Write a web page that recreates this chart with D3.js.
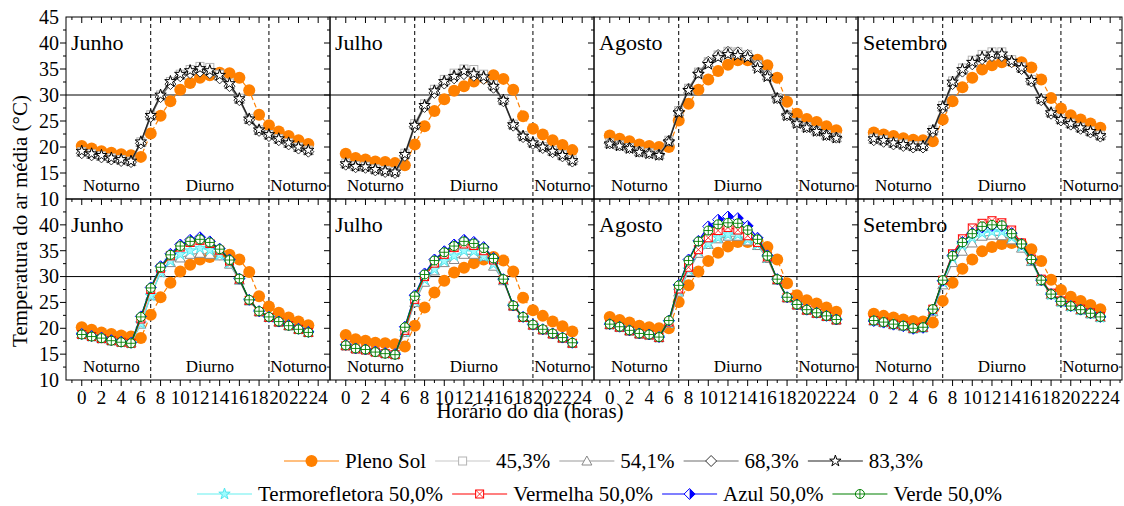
<!DOCTYPE html>
<html>
<head>
<meta charset="utf-8">
<script src="https://cdn.jsdelivr.net/npm/d3@7"></script>
<style>
  body { margin: 0; background: #fff; }
</style>
</head>
<body>
<svg id="chart" width="1124" height="506"></svg>
<script>
// hours of the day and months (one column of panels per month)
var hours = [0,1,2,3,4,5,6,7,8,9,10,11,12,13,14,15,16,17,18,19,20,21,22,23];
var months = ["Junho", "Julho", "Agosto", "Setembro"];

// each array: [Junho, Julho, Agosto, Setembro]
var plenoSol = [
  [20.2,19.7,19.2,18.9,18.6,18.4,18.1,22.6,26.0,28.8,31.0,32.3,33.3,33.8,34.3,34.2,33.3,30.9,26.2,24.2,23.0,22.1,21.3,20.6],
  [18.7,17.9,17.6,17.2,17.1,16.9,16.5,20.5,24.0,26.9,29.2,30.8,31.7,32.6,33.3,33.8,33.1,31.0,25.9,23.5,22.4,21.3,20.4,19.4],
  [22.2,21.6,21.1,20.5,20.2,20.0,20.0,25.1,28.3,31.0,33.0,34.6,35.8,36.7,36.7,36.8,35.7,33.3,28.7,26.4,25.4,24.8,24.0,23.2],
  [22.8,22.4,22.1,21.7,21.4,21.3,21.1,25.3,28.8,31.5,33.3,34.9,35.7,36.3,36.5,36.3,35.3,33.0,29.4,27.4,26.1,25.3,24.5,23.7]
];
var sombra45 = [
  [19.1,18.7,18.3,17.9,17.6,17.3,21.0,26.2,30.0,32.6,34.0,34.9,35.5,35.3,34.0,32.3,29.4,25.5,23.3,22.4,21.6,20.8,20.0,19.4],
  [16.9,16.4,16.3,15.8,15.5,15.3,18.8,24.5,28.3,31.1,33.0,34.2,35.0,34.9,34.0,32.0,29.1,24.4,22.2,20.9,20.1,19.3,18.5,17.5],
  [20.8,20.4,19.9,19.2,18.9,18.6,21.3,27.0,31.3,34.4,36.4,37.7,38.4,38.3,37.8,35.8,33.9,29.5,26.2,24.7,23.9,23.2,22.4,21.9],
  [21.7,21.4,20.9,20.6,20.3,20.3,23.3,28.0,32.7,35.2,36.7,37.8,38.3,38.3,36.8,35.4,33.0,29.3,26.7,25.4,24.6,23.8,23.1,22.3]
];
var sombra54 = [
  [19.0,18.6,18.2,17.8,17.5,17.2,20.9,26.0,29.8,32.4,33.8,34.6,35.0,34.6,33.6,32.0,29.2,25.3,23.2,22.3,21.5,20.7,19.9,19.3],
  [16.8,16.3,16.2,15.7,15.4,15.2,18.6,24.3,28.1,30.9,32.8,33.9,34.6,34.4,33.7,31.8,29.0,24.3,22.1,20.8,20.0,19.2,18.4,17.4],
  [20.7,20.3,19.8,19.1,18.8,18.5,21.1,26.8,31.1,34.2,36.2,37.5,38.1,38.0,37.5,35.5,33.7,29.4,26.1,24.6,23.8,23.1,22.3,21.8],
  [21.5,21.2,20.7,20.4,20.1,20.1,23.1,27.7,32.4,34.8,36.2,37.2,37.8,37.8,36.5,35.2,32.8,29.2,26.6,25.3,24.5,23.7,23.0,22.2]
];
var sombra68 = [
  [18.8,18.4,18.0,17.6,17.3,17.1,20.7,25.8,29.6,32.1,33.6,34.2,34.5,34.2,33.2,31.7,29.0,25.2,23.1,22.1,21.3,20.5,19.7,19.1],
  [16.6,16.1,16.0,15.5,15.2,15.0,18.3,23.9,27.7,30.4,32.2,33.2,34.0,33.7,33.1,31.4,28.8,24.1,21.9,20.6,19.8,19.0,18.2,17.2],
  [20.7,20.3,19.8,19.1,18.8,18.5,21.2,26.9,31.2,34.3,36.4,37.7,38.3,38.2,37.7,35.7,33.8,29.4,26.1,24.6,23.8,23.1,22.3,21.8],
  [21.3,21.0,20.5,20.2,19.9,19.9,22.9,27.5,32.1,34.5,35.9,36.9,37.5,37.5,36.3,35.0,32.6,29.0,26.4,25.1,24.3,23.5,22.8,22.0]
];
var sombra83 = [
  [19.2,18.7,18.4,17.9,17.6,17.3,21.0,26.1,30.0,32.6,34.0,34.7,35.1,34.7,33.8,32.2,29.3,25.4,23.3,22.4,21.6,20.8,20.0,19.4],
  [16.8,16.3,16.2,15.7,15.4,15.2,18.6,24.2,28.0,30.8,32.6,33.6,34.6,34.1,33.5,31.7,29.0,24.3,22.1,20.8,20.0,19.2,18.4,17.4],
  [20.6,20.2,19.7,19.0,18.7,18.4,21.0,26.6,30.9,34.0,35.9,37.2,37.8,37.6,37.2,35.1,33.5,29.3,26.0,24.5,23.7,23.0,22.2,21.7],
  [21.6,21.3,20.8,20.5,20.2,20.2,23.2,27.8,32.5,34.9,36.3,37.3,37.9,37.9,36.5,35.2,32.8,29.2,26.6,25.3,24.5,23.7,23.0,22.2]
];
// 54,1% as drawn in the lower row
var sombra54b = [
  [18.9,18.5,18.1,17.7,17.4,17.2,20.8,26.3,30.8,32.7,33.6,34.3,34.5,34.3,34.0,32.4,29.3,25.3,23.2,22.1,21.2,20.5,19.8,19.2],
  [16.7,16.1,15.9,15.5,15.2,15.0,19.2,25.0,28.9,31.1,32.7,33.3,34.3,34.3,33.9,32.0,29.2,24.3,22.1,20.6,19.7,18.9,18.1,17.1],
  [20.7,20.2,19.5,18.9,18.7,18.2,21.0,27.0,31.0,34.5,36.2,37.3,37.8,37.8,36.9,36.0,33.5,29.3,25.9,24.5,23.5,22.9,22.3,21.6],
  [21.4,21.1,20.7,20.4,19.9,20.1,23.2,28.4,32.7,34.9,36.5,37.8,38.0,37.9,37.1,35.5,32.9,29.1,26.5,25.1,24.2,23.5,22.8,22.1]
];
var termorefletora = [
  [18.8,18.4,18.0,17.6,17.3,17.1,20.9,26.3,30.8,33.0,34.3,35.0,35.5,35.1,34.2,32.6,29.4,25.4,23.2,22.1,21.2,20.5,19.8,19.2],
  [16.6,16.0,15.8,15.4,15.1,14.9,19.3,25.2,29.4,31.4,33.0,34.0,35.0,34.9,33.9,32.4,29.3,24.3,22.1,20.6,19.7,18.9,18.1,17.1],
  [20.7,20.2,19.5,18.9,18.7,18.2,21.0,27.2,31.3,34.9,36.3,37.5,38.1,38.1,37.2,36.2,33.6,29.4,25.9,24.5,23.5,22.9,22.3,21.6],
  [21.4,21.1,20.7,20.4,19.9,20.1,23.4,28.9,33.6,36.0,37.5,38.4,38.7,38.7,37.6,35.8,33.1,29.2,26.5,25.1,24.2,23.5,22.8,22.1]
];
var vermelha = [
  [18.8,18.4,18.0,17.6,17.3,17.1,21.8,27.5,31.6,34.0,35.7,36.6,37.0,36.4,35.1,33.0,29.5,25.4,23.2,22.1,21.2,20.5,19.8,19.2],
  [16.6,16.0,15.8,15.4,15.1,14.9,19.6,25.6,30.0,32.6,34.3,35.6,36.3,36.0,35.0,33.2,29.4,24.3,22.1,20.6,19.7,18.9,18.1,17.1],
  [20.7,20.2,19.5,18.9,18.7,18.2,21.2,27.6,31.8,35.2,37.5,38.9,39.5,39.0,37.9,36.6,33.8,29.4,25.9,24.5,23.5,22.9,22.3,21.6],
  [21.5,21.2,20.8,20.5,20.0,20.2,23.7,29.3,34.4,37.3,39.4,40.3,40.8,40.4,39.0,36.5,33.4,29.5,26.8,25.3,24.4,23.7,23.0,22.3]
];
var azul = [
  [18.9,18.5,18.2,17.7,17.4,17.2,22.3,27.9,32.0,34.4,36.2,37.1,37.6,36.8,35.4,33.3,29.6,25.5,23.3,22.2,21.3,20.6,19.9,19.3],
  [16.8,16.1,15.9,15.5,15.2,15.0,20.3,26.4,30.6,33.3,34.9,36.2,37.1,36.7,35.7,33.6,29.5,24.4,22.2,20.7,19.8,19.0,18.2,17.2],
  [20.8,20.3,19.6,19.0,18.8,18.3,21.5,28.4,33.3,36.9,39.7,41.0,41.6,41.3,39.8,37.5,34.1,29.5,26.0,24.6,23.6,23.0,22.4,21.7],
  [21.4,21.1,20.7,20.4,19.9,20.1,23.6,29.2,34.1,36.7,38.4,39.5,39.8,39.8,38.4,36.3,33.3,29.3,26.6,25.2,24.3,23.6,22.9,22.2]
];
var verde = [
  [18.8,18.4,18.1,17.6,17.3,17.1,22.2,27.8,31.8,34.2,35.9,36.8,37.2,36.6,35.3,33.2,29.6,25.5,23.3,22.2,21.3,20.5,19.8,19.2],
  [16.7,16.1,15.9,15.4,15.1,14.9,20.2,26.2,30.4,33.1,34.7,35.9,36.8,36.4,35.5,33.5,29.5,24.4,22.2,20.7,19.8,19.0,18.2,17.2],
  [20.8,20.3,19.6,19.0,18.8,18.3,21.5,28.3,33.1,36.8,38.9,40.1,40.4,40.3,39.0,37.2,34.0,29.5,26.0,24.6,23.6,23.0,22.4,21.7],
  [21.5,21.2,20.8,20.5,20.0,20.2,23.7,29.3,34.0,36.6,38.3,39.7,40.0,39.9,38.3,36.3,33.3,29.3,26.6,25.2,24.3,23.6,22.9,22.2]
];

var xTickLabels = [0,2,4,6,8,10,12,14,16,18,20,22,24];
var yTickLabels = [10,15,20,25,30,35,40,45];

// series styles
var styles = {
  pleno:  { name: "Pleno Sol",           color: "#ff8000", dash: "5,3", marker: "circle" },
  s45:    { name: "45,3%",               color: "#c8c8c8", dash: null,  marker: "square" },
  s54:    { name: "54,1%",               color: "#999999", dash: null,  marker: "triangle" },
  s68:    { name: "68,3%",               color: "#6e6e6e", dash: null,  marker: "diamond" },
  s83:    { name: "83,3%",               color: "#222222", dash: null,  marker: "star" },
  termo:  { name: "Termorefletora 50,0%", color: "#66f0f0", dash: null, marker: "starCyan" },
  verm:   { name: "Vermelha 50,0%",      color: "#ff0000", dash: null,  marker: "squareX" },
  azul:   { name: "Azul 50,0%",          color: "#0000ff", dash: null,  marker: "diamondHalf" },
  verde:  { name: "Verde 50,0%",         color: "#008000", dash: null,  marker: "circlePlus" }
};

var topRow = [["pleno", plenoSol], ["s45", sombra45], ["s54", sombra54], ["s68", sombra68], ["s83", sombra83]];
var bottomRow = [["pleno", plenoSol], ["s54", sombra54b], ["termo", termorefletora], ["verm", vermelha], ["azul", azul], ["verde", verde]];

var svg = d3.select("#chart");
var serif = "Liberation Serif";

var left = 66, panelW = 264;
var rows = [{ y0: 17, y1: 199, series: topRow, labels: yTickLabels, textY: 11.5 },
            { y0: 199, y1: 380, series: bottomRow, labels: yTickLabels.slice(0, 7), textY: 11.6 }];

function label(sel, size) {
  return sel.style("font-family", serif).style("font-size", size + "px").attr("fill", "#000");
}

function drawMarker(g, type) {
  var dia = "M0,-5.5L5.5,0L0,5.5L-5.5,0Z";
  var star = d3.symbol(d3.symbolStar, 40)();
  if (type == "circle") {
    g.append("circle").attr("r", 6).attr("fill", "#ff8000");
  } else if (type == "square") {
    g.append("rect").attr("x", -4).attr("y", -4).attr("width", 8).attr("height", 8)
      .attr("fill", "#fff").attr("stroke", "#b4b4b4");
  } else if (type == "triangle") {
    g.append("path").attr("d", "M0,-5L5,4L-5,4Z").attr("fill", "#fff").attr("stroke", "#888");
  } else if (type == "diamond") {
    g.append("path").attr("d", dia).attr("fill", "#fff").attr("stroke", "#333");
  } else if (type == "star") {
    g.append("path").attr("d", star).attr("fill", "#fff").attr("stroke", "#000");
  } else if (type == "starCyan") {
    g.append("path").attr("d", star).attr("fill", "#9ffcff").attr("stroke", "#55e6ee");
  } else if (type == "squareX") {
    g.append("rect").attr("x", -4).attr("y", -4).attr("width", 8).attr("height", 8)
      .attr("fill", "#fff").attr("stroke", "#f00");
    g.append("path").attr("d", "M-4,-4L4,4M4,-4L-4,4").attr("stroke", "#f00").attr("stroke-width", 0.8);
  } else if (type == "diamondHalf") {
    g.append("path").attr("d", dia).attr("fill", "#fff").attr("stroke", "#00f");
    g.append("path").attr("d", "M0,-5.5L5.5,0L0,5.5Z").attr("fill", "#00f");
  } else if (type == "circlePlus") {
    g.append("circle").attr("r", 4.5).attr("fill", "#fff").attr("stroke", "#008000");
    g.append("path").attr("d", "M-4.5,0L4.5,0M0,-4.5L0,4.5").attr("stroke", "#008000").attr("stroke-width", 0.9);
  }
}

rows.forEach(function(row, ri) {
  var y = d3.scaleLinear().domain([10, 45]).range([row.y1, row.y0]);

  months.forEach(function(month, mi) {
    var x0 = left + mi * panelW, x1 = x0 + panelW;
    var x = d3.scaleLinear().domain([-1.6, 25.2]).range([x0, x1]);
    var g = svg.append("g");

    // reference lines
    g.append("line").attr("x1", x0).attr("x2", x1).attr("y1", y(30)).attr("y2", y(30))
      .attr("stroke", "#000").attr("stroke-width", 1);
    [7, 19].forEach(function(h) {
      g.append("line").attr("x1", x(h)).attr("x2", x(h)).attr("y1", row.y0).attr("y2", row.y1)
        .attr("stroke", "#000").attr("stroke-dasharray", "4,3").attr("stroke-width", 1);
    });

    // ticks: all pointing down / left
    var xt = d3.range(-1, 26);
    g.selectAll(".xt").data(xt).join("line")
      .attr("x1", d => x(d)).attr("x2", d => x(d))
      .attr("y1", row.y0).attr("y2", d => row.y0 + (d % 2 == 0 ? 6 : 3))
      .attr("stroke", "#000");
    if (ri == 1) {
      g.selectAll(".xb").data(xt).join("line")
        .attr("x1", d => x(d)).attr("x2", d => x(d))
        .attr("y1", row.y1).attr("y2", d => row.y1 + (d % 2 == 0 ? 6 : 3))
        .attr("stroke", "#000");
      label(g.selectAll(".xl").data(xTickLabels).join("text"), 19)
        .attr("x", d => x(d)).attr("y", 404)
        .attr("text-anchor", "middle")
        .text(d => d);
    }
    var yt = d3.range(12.5, 45, 2.5);
    var edges = mi == 3 ? [x0, x1] : [x0];
    edges.forEach(function(ex) {
      g.append("g").selectAll("line").data(yt).join("line")
        .attr("x1", d => ex - (d % 5 == 0 ? 6 : 3)).attr("x2", ex)
        .attr("y1", d => y(d)).attr("y2", d => y(d))
        .attr("stroke", "#000");
    });
    if (mi == 0) {
      label(g.selectAll(".yl").data(row.labels).join("text"), 20)
        .attr("x", x0 - 7).attr("y", d => y(d)).attr("dy", "0.34em")
        .attr("text-anchor", "end")
        .text(d => d);
    }

    // series
    var line = d3.line().x((d, i) => x(hours[i])).y(d => y(d));
    row.series.forEach(function(s) {
      var st = styles[s[0]], vals = s[1][mi];
      g.append("path").attr("d", line(vals)).attr("fill", "none")
        .attr("stroke", st.color).attr("stroke-width", 1.2)
        .attr("stroke-dasharray", st.dash);
      g.append("g").selectAll("g").data(vals).join("g")
        .attr("transform", (d, i) => "translate(" + x(hours[i]) + "," + y(d) + ")")
        .each(function() { drawMarker(d3.select(this), st.marker); });
    });

    // frame
    g.append("rect").attr("x", x0).attr("y", row.y0).attr("width", panelW).attr("height", row.y1 - row.y0)
      .attr("fill", "none").attr("stroke", "#000").attr("stroke-width", 1);

    // texts
    label(g.append("text"), 22).attr("x", x0 + 5).attr("y", y(38.6)).text(month);
    [[3, "Noturno"], [13, "Diurno"], [22, "Noturno"]].forEach(function(t) {
      label(g.append("text"), 17).attr("x", x(t[0])).attr("y", y(row.textY))
        .attr("text-anchor", "middle").text(t[1]);
    });
  });
});

// axis titles
label(svg.append("text"), 21).attr("x", 530).attr("y", 418)
  .attr("text-anchor", "middle")
  .text("Horário do dia (horas)");
label(svg.append("text"), 21).attr("transform", "translate(20,221) rotate(-90)").attr("dy", "0.35em")
  .attr("text-anchor", "middle")
  .text("Temperatura do ar média (°C)");

// legend
function legendRow(keys, startX, cy) {
  var cx = startX;
  keys.forEach(function(k) {
    var st = styles[k];
    var g = svg.append("g");
    g.append("line").attr("x1", cx).attr("x2", cx + 55).attr("y1", cy).attr("y2", cy)
      .attr("stroke", st.color).attr("stroke-width", 1.2);
    var m = g.append("g").attr("transform", "translate(" + (cx + 27.5) + "," + cy + ")");
    drawMarker(m, st.marker);
    var t = label(g.append("text"), 21).attr("x", cx + 61).attr("y", cy).attr("dy", "0.35em")
      .text(st.name);
    cx = cx + 61 + t.node().getComputedTextLength() + 9;
  });
}
legendRow(["pleno", "s45", "s54", "s68", "s83"], 284, 461);
legendRow(["termo", "verm", "azul", "verde"], 197, 494);
</script>
</body>
</html>
